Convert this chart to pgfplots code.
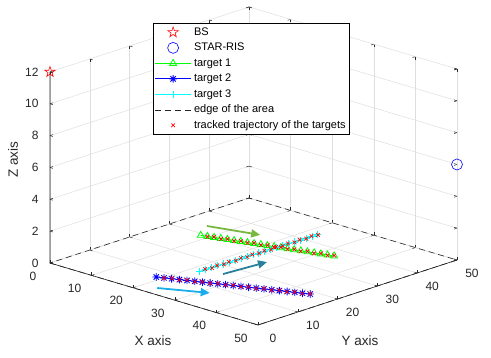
\documentclass[border=0pt]{standalone}
\usepackage{fontspec}
\setmainfont{Liberation Sans}
\usepackage{pgfplots}
\pgfplotsset{compat=1.18}
\usetikzlibrary{calc,arrows.meta}
\definecolor{axgray}{rgb}{0.15,0.15,0.15}
\definecolor{arrgreen}{rgb}{0.47,0.72,0.25}
\definecolor{arrblue}{rgb}{0.10,0.68,0.92}
\definecolor{arrteal}{rgb}{0.17,0.50,0.60}
\definecolor{cyanm}{rgb}{0,1,1}
\pgfdeclareplotmark{pentagram}{%
  \pgfpathmoveto{\pgfpointpolar{90}{\pgfplotmarksize}}%
  \pgfpathlineto{\pgfpointpolar{126}{0.382\pgfplotmarksize}}%
  \pgfpathlineto{\pgfpointpolar{162}{\pgfplotmarksize}}%
  \pgfpathlineto{\pgfpointpolar{198}{0.382\pgfplotmarksize}}%
  \pgfpathlineto{\pgfpointpolar{234}{\pgfplotmarksize}}%
  \pgfpathlineto{\pgfpointpolar{270}{0.382\pgfplotmarksize}}%
  \pgfpathlineto{\pgfpointpolar{306}{\pgfplotmarksize}}%
  \pgfpathlineto{\pgfpointpolar{342}{0.382\pgfplotmarksize}}%
  \pgfpathlineto{\pgfpointpolar{18}{\pgfplotmarksize}}%
  \pgfpathlineto{\pgfpointpolar{54}{0.382\pgfplotmarksize}}%
  \pgfpathclose\pgfusepathqstroke}
\pgfdeclareplotmark{mstar}{%
  \pgfpathmoveto{\pgfpoint{-\pgfplotmarksize}{0pt}}\pgfpathlineto{\pgfpoint{\pgfplotmarksize}{0pt}}%
  \pgfpathmoveto{\pgfpoint{0pt}{-\pgfplotmarksize}}\pgfpathlineto{\pgfpoint{0pt}{\pgfplotmarksize}}%
  \pgfpathmoveto{\pgfpoint{-0.707\pgfplotmarksize}{-0.707\pgfplotmarksize}}\pgfpathlineto{\pgfpoint{0.707\pgfplotmarksize}{0.707\pgfplotmarksize}}%
  \pgfpathmoveto{\pgfpoint{-0.707\pgfplotmarksize}{0.707\pgfplotmarksize}}\pgfpathlineto{\pgfpoint{0.707\pgfplotmarksize}{-0.707\pgfplotmarksize}}%
  \pgfusepathqstroke}

\pgfplotstableread{
x y z
8.30 29.20 0
9.54 29.59 0
10.77 29.97 0
12.01 30.36 0
13.24 30.74 0
14.48 31.13 0
15.71 31.51 0
16.95 31.90 0
18.18 32.28 0
19.42 32.67 0
20.65 33.05 0
21.89 33.44 0
23.12 33.82 0
24.36 34.21 0
25.59 34.59 0
26.83 34.98 0
28.06 35.36 0
29.30 35.75 0
30.53 36.13 0
31.77 36.52 0
33.00 36.90 0
}\targetone
\pgfplotstableread{
x y z
18.75 7.10 0
20.05 7.68 0
21.34 8.26 0
22.64 8.84 0
23.93 9.42 0
25.23 10.00 0
26.52 10.58 0
27.82 11.16 0
29.11 11.74 0
30.41 12.32 0
31.70 12.90 0
33.00 13.48 0
34.29 14.06 0
35.59 14.64 0
36.88 15.22 0
38.18 15.80 0
39.47 16.38 0
40.77 16.96 0
42.06 17.54 0
43.36 18.12 0
44.65 18.70 0
}\targettwo
\pgfplotstableread{
x y z
22.05 14.60 0
22.09 16.05 0
22.12 17.49 0
22.16 18.94 0
22.19 20.38 0
22.23 21.83 0
22.26 23.27 0
22.30 24.72 0
22.33 26.16 0
22.37 27.61 0
22.41 29.05 0
22.44 30.50 0
22.48 31.94 0
22.51 33.39 0
22.55 34.83 0
22.58 36.28 0
22.62 37.72 0
22.65 39.17 0
22.69 40.61 0
22.72 42.06 0
22.76 43.50 0
}\targetthree
\pgfplotstableread{
x y z
9.70 29.40 0
10.60 30.10 0
12.20 30.20 0
13.10 30.90 0
14.60 30.95 0
15.55 31.70 0
17.10 31.75 0
18.00 32.45 0
19.60 32.50 0
20.50 33.25 0
22.05 33.25 0
22.95 34.00 0
24.50 34.05 0
25.45 34.80 0
26.95 34.80 0
27.90 35.55 0
29.45 35.55 0
30.40 36.30 0
31.95 36.35 0
32.85 37.05 0
20.20 7.50 0
21.20 8.45 0
22.80 8.65 0
23.75 9.60 0
25.40 9.85 0
26.35 10.75 0
27.95 11.00 0
28.95 11.90 0
30.55 12.15 0
31.55 13.05 0
33.15 13.30 0
34.10 14.20 0
35.75 14.45 0
36.70 15.40 0
38.30 15.60 0
39.30 16.55 0
40.90 16.75 0
41.85 17.70 0
43.50 17.95 0
44.50 18.85 0
21.85 16.15 0
22.30 17.40 0
21.95 19.05 0
22.35 20.30 0
22.00 21.95 0
22.45 23.20 0
22.10 24.85 0
22.50 26.05 0
22.15 27.70 0
22.55 28.95 0
22.25 30.60 0
22.65 31.85 0
22.30 33.50 0
22.70 34.75 0
22.40 36.40 0
22.80 37.60 0
22.45 39.25 0
22.85 40.50 0
22.55 42.15 0
22.90 43.40 0
}\tracked

\begin{document}
\begin{tikzpicture}
\begin{axis}[
  x={(4.16pt,-1.24pt)}, y={(3.98pt,1.30pt)}, z={(0pt,15.92pt)},
  xmin=0, xmax=50, ymin=0, ymax=50, zmin=0, zmax=12,
  xtick={0,10,...,50}, ytick={0,10,...,50}, ztick={0,2,...,12},
  grid=major, major grid style={black!13, line width=0.5pt},
  axis line style={draw=none},
  tick style={axgray, line width=0.5pt},
  major tick length=3pt,
  clip=false,
  /pgf/number format/assume math mode=true,
  ticklabel style={font=\fontsize{12}{14}\selectfont, text=axgray},
  xticklabel style={anchor=center, xshift=-17pt, yshift=-13pt},
  yticklabel style={anchor=center, xshift=15pt, yshift=-13pt},
  zticklabel style={anchor=east, xshift=-8pt},
  label style={font=\fontsize{13.5}{15}\selectfont, text=axgray},
  xlabel={X axis}, ylabel={Y axis}, zlabel={Z axis},
  xlabel style={at={(rel axis cs:0.5,0,0)}, anchor=center, xshift=-1pt, yshift=-47pt},
  ylabel style={at={(rel axis cs:1,0.5,0)}, anchor=center, xshift=2.5pt, yshift=-48.5pt},
  zlabel style={at={(rel axis cs:0,0,0.5)}, anchor=center, xshift=7.5pt, yshift=37pt},
  legend style={at={(axis description cs:0.253,0.95)}, anchor=north west,
    draw=black, line width=0.5pt, inner sep=1.5pt, row sep=0pt,
    font=\fontsize{11}{13}\selectfont, text=black,
    nodes={inner sep=2.5pt, text height=8pt, text depth=2.5pt}},
  legend cell align=left,
  legend image code/.code={\draw[mark repeat=2,mark phase=2,#1] plot coordinates {(0pt,0pt) (18pt,0pt) (36pt,0pt)};},
]
\addplot3[only marks, mark=pentagram, mark size=5.5pt, red, line width=0.6pt] coordinates {(0,0,12)};
\addlegendentry{BS}
\addplot3[only marks, mark=o, mark size=5.5pt, blue, line width=0.6pt] coordinates {(50,50,6)};
\addlegendentry{STAR-RIS}
\addplot3[green, line width=0.8pt, mark=triangle, mark size=4pt, mark options={solid}] table {\targetone};
\addlegendentry{target 1}
\addplot3[blue, line width=0.8pt, mark=mstar, mark size=3.8pt] table {\targettwo};
\addlegendentry{target 2}
\addplot3[cyanm, line width=0.8pt, mark=+, mark size=3.6pt] table {\targetthree};
\addlegendentry{target 3}
\addplot3[black!85, line width=0.6pt, dash pattern=on 6pt off 4pt] coordinates {(0,0,0) (50,0,0) (50,50,0) (0,50,0) (0,0,0)};
\addlegendentry{edge of the area}
\addplot3[only marks, mark=x, mark size=2.6pt, red, line width=0.7pt] table {\tracked};
\addlegendentry{tracked trajectory of the targets}
% axis lines
\addplot3[forget plot, axgray, line width=0.6pt] coordinates {(0,0,12) (0,0,0) (50,0,0) (50,50,0)};
% direction arrows
\addplot3[forget plot, arrgreen, line width=1.8pt, -{Triangle[length=9pt,width=8pt]},
  quiver={u=\thisrow{u}, v=\thisrow{v}, w=\thisrow{w}}] table[row sep=\\] {x y z u v w\\ 5.5 33.7 0 10.1 2.8 0\\};
\addplot3[forget plot, arrblue, line width=1.8pt, -{Triangle[length=9pt,width=8pt]},
  quiver={u=\thisrow{u}, v=\thisrow{v}, w=\thisrow{w}}] table[row sep=\\] {x y z u v w\\ 23.1 2.8 0 8.5 4.3 0\\};
\addplot3[forget plot, arrteal, line width=1.8pt, -{Triangle[length=9pt,width=8pt]},
  quiver={u=\thisrow{u}, v=\thisrow{v}, w=\thisrow{w}}] table[row sep=\\] {x y z u v w\\ 26.0 16.3 0 0.9 10.1 0\\};
\coordinate (O) at (axis cs:0,0,0);
\end{axis}
\pgfresetboundingbox
\path ($(O)+(-50pt,-95pt)$) rectangle ($(O)+(441pt,263pt)$);
\end{tikzpicture}
\end{document}
